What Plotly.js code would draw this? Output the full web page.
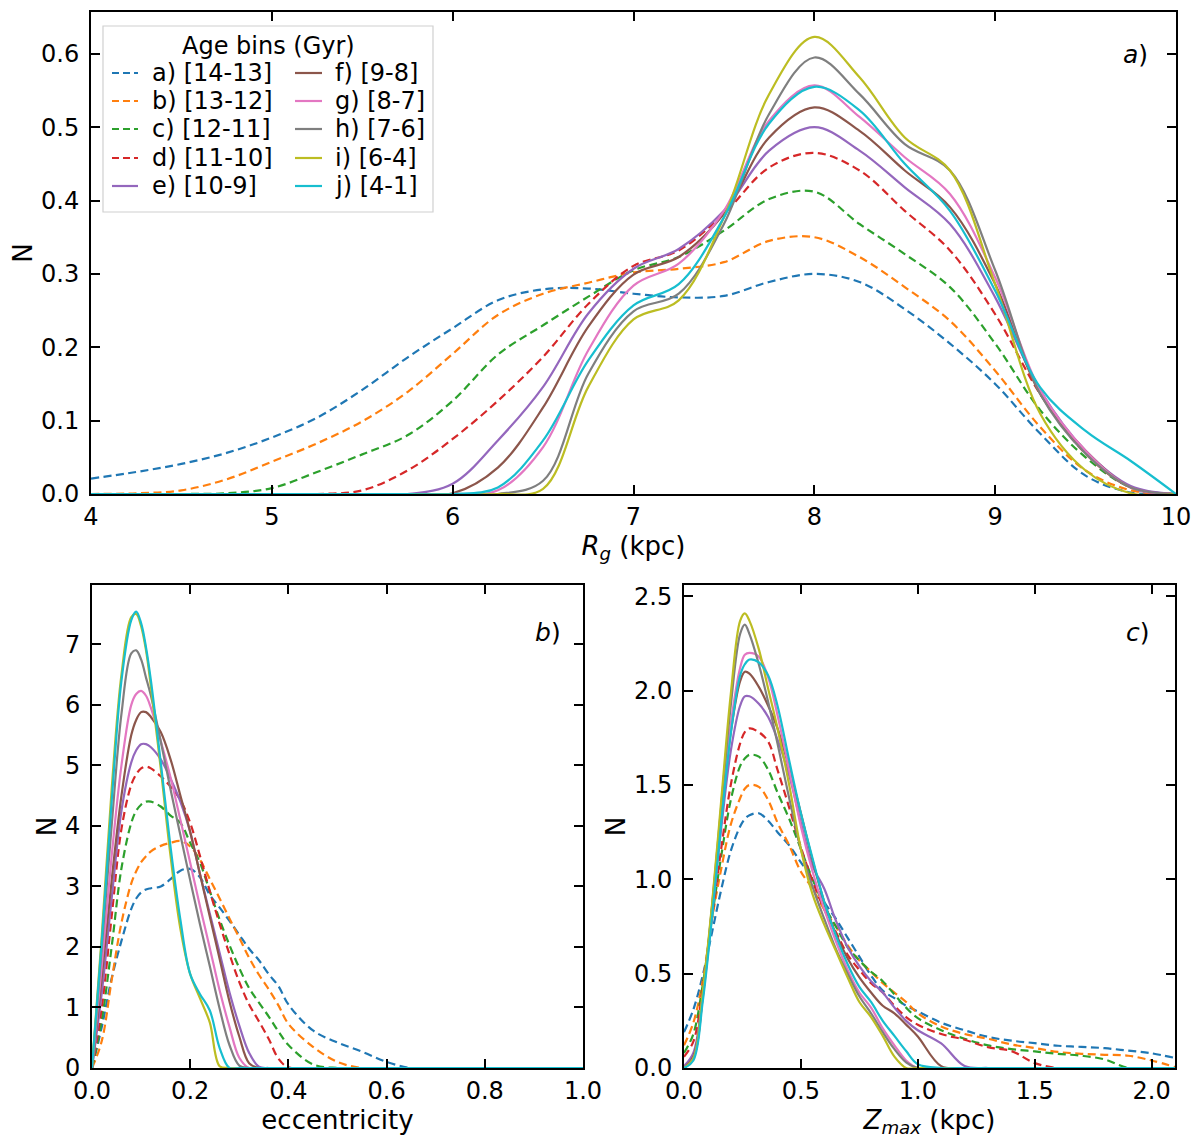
<!DOCTYPE html>
<html>
<head>
<meta charset="utf-8">
<script src="https://cdn.plot.ly/plotly-3.0.1.min.js"></script>
<style>body{margin:0;background:#fff;}</style>
</head>
<body>
<div id="graph" style="width:1200px;height:1146px;"></div>
<script>
/* ----- Age bins ------- */
var binNames = ['a) [14-13]', 'b) [13-12]', 'c) [12-11]', 'd) [11-10]', 'e) [10-9]',
                'f) [9-8]', 'g) [8-7]', 'h) [7-6]', 'i) [6-4]', 'j) [4-1]'];
var binColors = ['#1f77b4', '#ff7f0e', '#2ca02c', '#d62728', '#9467bd',
                 '#8c564b', '#e377c2', '#7f7f7f', '#bcbd22', '#17becf'];
var binDashed = [true, true, true, true, false, false, false, false, false, false];

/* ----- Panel a: guiding radius R_g (kpc) ------- */
var rgGrid = [4, 4.25, 4.5, 4.75, 5, 5.25, 5.5, 5.75, 6, 6.25, 6.5, 6.75, 7,
              7.25, 7.5, 7.75, 8, 8.25, 8.5, 8.75, 9, 9.25, 9.5, 9.75, 10];
var rgA = [0.021, 0.030, 0.041, 0.056, 0.077, 0.104, 0.142, 0.186, 0.226, 0.264, 0.279, 0.280, 0.273,
           0.268, 0.270, 0.289, 0.300, 0.289, 0.252, 0.205, 0.150, 0.082, 0.025, 0.002, 0];
var rgB = [0, 0.001, 0.005, 0.020, 0.044, 0.069, 0.099, 0.139, 0.191, 0.244, 0.273, 0.288, 0.302,
           0.307, 0.316, 0.345, 0.350, 0.323, 0.282, 0.236, 0.168, 0.091, 0.032, 0.005, 0];
var rgC = [0, 0, 0, 0.001, 0.008, 0.030, 0.054, 0.080, 0.127, 0.190, 0.230, 0.269, 0.305,
           0.323, 0.359, 0.402, 0.412, 0.368, 0.327, 0.282, 0.205, 0.114, 0.050, 0.009, 0];
var rgD = [0, 0, 0, 0, 0, 0, 0.005, 0.032, 0.075, 0.127, 0.187, 0.259, 0.311,
           0.332, 0.382, 0.445, 0.465, 0.441, 0.386, 0.332, 0.245, 0.136, 0.055, 0.009, 0];
var rgE = [0, 0, 0, 0, 0, 0, 0, 0, 0.014, 0.073, 0.146, 0.246, 0.307,
           0.334, 0.386, 0.468, 0.500, 0.468, 0.418, 0.368, 0.268, 0.141, 0.059, 0.011, 0];
var rgF = [0, 0, 0, 0, 0, 0, 0, 0, 0.001, 0.036, 0.118, 0.228, 0.299,
           0.323, 0.382, 0.486, 0.527, 0.495, 0.441, 0.391, 0.286, 0.136, 0.059, 0.009, 0];
var rgG = [0, 0, 0, 0, 0, 0, 0, 0, 0, 0.005, 0.064, 0.196, 0.284,
           0.314, 0.386, 0.509, 0.557, 0.514, 0.459, 0.409, 0.295, 0.141, 0.059, 0.009, 0];
var rgH = [0, 0, 0, 0, 0, 0, 0, 0, 0, 0, 0.018, 0.164, 0.249,
           0.273, 0.368, 0.518, 0.595, 0.545, 0.477, 0.441, 0.305, 0.136, 0.055, 0.009, 0];
var rgI = [0, 0, 0, 0, 0, 0, 0, 0, 0, 0, 0.007, 0.146, 0.238,
           0.264, 0.377, 0.545, 0.623, 0.568, 0.486, 0.441, 0.286, 0.109, 0.032, 0.001, 0];
var rgJ = [0, 0, 0, 0, 0, 0, 0, 0, 0, 0.009, 0.073, 0.182, 0.257,
           0.286, 0.377, 0.505, 0.555, 0.523, 0.450, 0.386, 0.277, 0.145, 0.086, 0.045, 0];

/* ----- Panel b: eccentricity ------- */
var eccGrid = [0, 0.02, 0.04, 0.06, 0.08, 0.09, 0.10, 0.11, 0.12, 0.14, 0.16, 0.18, 0.20, 0.22, 0.24,
               0.26, 0.28, 0.30, 0.32, 0.34, 0.36, 0.38, 0.40, 0.45, 0.50, 0.55, 0.60, 0.65, 0.70, 1.0];
var eccA = [0, 0.68, 1.48, 2.1, 2.63, 2.8, 2.9, 2.95, 2.97, 3.0, 3.12, 3.26, 3.29, 3.15, 2.86,
            2.65, 2.43, 2.2, 1.97, 1.78, 1.55, 1.35, 1.05, 0.62, 0.42, 0.27, 0.1, 0, 0, 0];
var eccB = [0, 0.45, 1.45, 2.4, 3.05, 3.25, 3.4, 3.5, 3.58, 3.67, 3.72, 3.75, 3.66, 3.44, 3.12,
            2.8, 2.47, 2.15, 1.82, 1.54, 1.3, 1.03, 0.73, 0.35, 0.1, 0, 0, 0, 0, 0];
var eccC = [0, 0.8, 2.0, 3.3, 4.05, 4.25, 4.35, 4.4, 4.4, 4.32, 4.17, 4.05, 3.72, 3.39, 2.92,
            2.45, 2.03, 1.65, 1.32, 1.08, 0.85, 0.6, 0.38, 0.06, 0, 0, 0, 0, 0, 0];
var eccD = [0, 1.0, 2.5, 3.95, 4.68, 4.85, 4.95, 4.98, 4.95, 4.82, 4.65, 4.43, 4.05, 3.5, 2.92,
            2.38, 1.88, 1.42, 1.05, 0.77, 0.48, 0.15, 0.01, 0, 0, 0, 0, 0, 0, 0];
var eccE = [0, 1.25, 2.8, 4.25, 5.05, 5.25, 5.35, 5.35, 5.3, 5.1, 4.78, 4.4, 3.9, 3.2, 2.55,
            1.9, 1.25, 0.7, 0.25, 0.02, 0, 0, 0, 0, 0, 0, 0, 0, 0, 0];
var eccF = [0, 1.5, 3.1, 4.5, 5.5, 5.75, 5.88, 5.88, 5.8, 5.55, 5.1, 4.5, 3.9, 3.2, 2.5,
            1.8, 1.1, 0.52, 0.08, 0, 0, 0, 0, 0, 0, 0, 0, 0, 0, 0];
var eccG = [0, 1.7, 3.5, 5.0, 6.0, 6.18, 6.23, 6.15, 5.95, 5.4, 4.8, 4.1, 3.39, 2.67, 1.98,
            1.28, 0.68, 0.17, 0, 0, 0, 0, 0, 0, 0, 0, 0, 0, 0, 0];
var eccH = [0, 2.0, 4.0, 5.85, 6.85, 6.9, 6.75, 6.45, 6.15, 5.4, 4.6, 3.85, 3.1, 2.37, 1.68,
            0.98, 0.38, 0.04, 0, 0, 0, 0, 0, 0, 0, 0, 0, 0, 0, 0];
var eccI = [0, 2.2, 4.6, 6.5, 7.45, 7.5, 7.3, 6.9, 6.3, 4.95, 3.5, 2.3, 1.55, 1.15, 0.75,
            0.03, 0, 0, 0, 0, 0, 0, 0, 0, 0, 0, 0, 0, 0, 0];
var eccJ = [0, 2.1, 4.4, 6.4, 7.4, 7.54, 7.35, 6.95, 6.4, 5.05, 3.65, 2.45, 1.55, 1.22, 0.95,
            0.33, 0, 0, 0, 0, 0, 0, 0, 0, 0, 0, 0, 0, 0, 0];

/* ----- Panel c: Z_max (kpc) ------- */
var zGrid = [0, 0.04, 0.08, 0.12, 0.16, 0.20, 0.24, 0.26, 0.28, 0.32, 0.36, 0.40, 0.45, 0.50, 0.55,
             0.60, 0.65, 0.70, 0.75, 0.80, 0.85, 0.90, 0.95, 1.0, 1.1, 1.2, 1.3, 1.4, 1.5, 1.6,
             1.7, 1.8, 1.9, 2.0, 2.1];
var zA = [0.19, 0.31, 0.49, 0.72, 0.95, 1.15, 1.28, 1.32, 1.34, 1.35, 1.31, 1.25, 1.18, 1.09, 1.00,
          0.88, 0.79, 0.69, 0.59, 0.49, 0.41, 0.37, 0.33, 0.30, 0.24, 0.20, 0.165, 0.145, 0.132, 0.118,
          0.112, 0.105, 0.092, 0.078, 0.053];
var zB = [0.12, 0.24, 0.46, 0.79, 1.06, 1.29, 1.43, 1.48, 1.50, 1.49, 1.42, 1.30, 1.18, 1.04, 0.95,
          0.84, 0.75, 0.65, 0.57, 0.51, 0.45, 0.40, 0.35, 0.29, 0.22, 0.18, 0.155, 0.125, 0.106, 0.085,
          0.075, 0.07, 0.065, 0.04, 0.005];
var zC = [0.08, 0.18, 0.44, 0.80, 1.13, 1.42, 1.60, 1.64, 1.66, 1.65, 1.58, 1.46, 1.32, 1.16, 1.00,
          0.86, 0.75, 0.64, 0.57, 0.51, 0.46, 0.39, 0.32, 0.264, 0.20, 0.155, 0.12, 0.10, 0.088, 0.075,
          0.065, 0.045, 0, 0, 0];
var zD = [0.06, 0.14, 0.42, 0.80, 1.17, 1.50, 1.72, 1.78, 1.80, 1.78, 1.73, 1.58, 1.38, 1.17, 0.99,
          0.84, 0.72, 0.60, 0.52, 0.45, 0.40, 0.33, 0.27, 0.229, 0.18, 0.15, 0.11, 0.09, 0.026, 0,
          0, 0, 0, 0, 0];
var zE = [0.01, 0.08, 0.38, 0.82, 1.28, 1.68, 1.92, 1.97, 1.97, 1.93, 1.86, 1.74, 1.55, 1.30, 1.07,
          0.95, 0.78, 0.64, 0.54, 0.46, 0.40, 0.32, 0.25, 0.20, 0.13, 0.01, 0, 0, 0, 0,
          0, 0, 0, 0, 0];
var zF = [0, 0.06, 0.38, 0.85, 1.35, 1.78, 2.05, 2.10, 2.09, 2.02, 1.92, 1.80, 1.59, 1.35, 1.10,
          0.88, 0.71, 0.58, 0.48, 0.40, 0.33, 0.29, 0.23, 0.167, 0.01, 0, 0, 0, 0, 0,
          0, 0, 0, 0, 0];
var zG = [0, 0.05, 0.37, 0.82, 1.35, 1.82, 2.12, 2.19, 2.20, 2.18, 2.07, 1.87, 1.58, 1.28, 1.04,
          0.84, 0.67, 0.52, 0.40, 0.32, 0.21, 0.12, 0.04, 0, 0, 0, 0, 0, 0, 0,
          0, 0, 0, 0, 0];
var zH = [0, 0.05, 0.38, 0.86, 1.40, 1.92, 2.30, 2.35, 2.30, 2.14, 1.94, 1.72, 1.43, 1.16, 0.96,
          0.79, 0.63, 0.50, 0.38, 0.29, 0.19, 0.10, 0.03, 0, 0, 0, 0, 0, 0, 0,
          0, 0, 0, 0, 0];
var zI = [0, 0.05, 0.40, 0.87, 1.43, 1.98, 2.37, 2.41, 2.37, 2.22, 2.01, 1.80, 1.50, 1.16, 0.92,
          0.76, 0.62, 0.48, 0.35, 0.27, 0.17, 0.06, 0, 0, 0, 0, 0, 0, 0, 0,
          0, 0, 0, 0, 0];
var zJ = [0, 0.04, 0.35, 0.80, 1.31, 1.77, 2.08, 2.14, 2.165, 2.15, 2.08, 1.92, 1.63, 1.35, 1.11,
          0.88, 0.70, 0.55, 0.43, 0.35, 0.25, 0.17, 0.09, 0.02, 0, 0, 0, 0, 0, 0,
          0, 0, 0, 0, 0];

var rgSeries = [rgA, rgB, rgC, rgD, rgE, rgF, rgG, rgH, rgI, rgJ];
var eccSeries = [eccA, eccB, eccC, eccD, eccE, eccF, eccG, eccH, eccI, eccJ];
var zSeries = [zA, zB, zC, zD, zE, zF, zG, zH, zI, zJ];

var W = 1200, H = 1146;
var FONT = 'DejaVu Sans';
var DASH = '8px,4.5px';

/* ------ Traces ------- */

/**
 * Builds one KDE curve for one age bin in one panel.
 */
function makeCurve(i, xs, ys, xa, ya) {
    return {
        x: xs,
        y: ys,
        xaxis: xa,
        yaxis: ya,
        type: 'scatter',
        mode: 'lines',
        name: binNames[i],
        showlegend: false,
        line: {
            color: binColors[i],
            width: 2.2,
            shape: 'spline',
            smoothing: 1,
            dash: binDashed[i] ? DASH : 'solid'
        },
        hoverinfo: 'skip'
    };
}

var data = [];
for (var i = 0; i < binNames.length; i++) {
    data.push(makeCurve(i, rgGrid, rgSeries[i], 'x', 'y'));
}
for (var i = 0; i < binNames.length; i++) {
    data.push(makeCurve(i, eccGrid, eccSeries[i], 'x2', 'y2'));
}
for (var i = 0; i < binNames.length; i++) {
    data.push(makeCurve(i, zGrid, zSeries[i], 'x3', 'y3'));
}

/* ------ Axes ------- */

function axis(extra) {
    var base = {
        showline: true,
        linecolor: 'black',
        linewidth: 2,
        mirror: 'ticks',
        ticks: 'inside',
        ticklen: 9,
        tickwidth: 2,
        tickcolor: 'black',
        showgrid: false,
        zeroline: false,
        fixedrange: true,
        tickfont: {family: FONT, size: 24, color: 'black'}
    };
    return Object.assign(base, extra);
}

function axTitle(text, standoff) {
    return {text: text, standoff: standoff, font: {family: FONT, size: 26, color: 'black'}};
}

var topY = [1 - 494 / H, 1 - 12 / H];
var botY = [1 - 1068 / H, 1 - 585 / H];

/* ------ Legend (two columns, age bins) drawn in paper coords ------- */
var legendBox = {x0: 103, x1: 433, y0: 26, y1: 212};
var legendRows = [73, 101, 129, 158, 186];
var legendCols = [{line: [112, 138], text: 150}, {line: [295, 322], text: 333}];

var shapes = [{
    type: 'rect', xref: 'paper', yref: 'paper',
    x0: legendBox.x0 / W, x1: legendBox.x1 / W, y0: 1 - legendBox.y1 / H, y1: 1 - legendBox.y0 / H,
    line: {color: '#d0d0d0', width: 1.2},
    fillcolor: 'rgba(255,255,255,0.85)',
    layer: 'above'
}];
var annotations = [{
    text: 'Age bins (Gyr)', xref: 'paper', yref: 'paper', x: 268 / W, y: 1 - 46 / H,
    showarrow: false, xanchor: 'center', yanchor: 'middle',
    font: {family: FONT, size: 24, color: 'black'}
}];
for (var i = 0; i < binNames.length; i++) {
    var col = legendCols[Math.floor(i / 5)];
    var rowY = 1 - legendRows[i % 5] / H;
    shapes.push({
        type: 'line', xref: 'paper', yref: 'paper',
        x0: col.line[0] / W, x1: col.line[1] / W, y0: rowY, y1: rowY,
        line: {color: binColors[i], width: 2.2, dash: binDashed[i] ? '7px,4px' : 'solid'},
        layer: 'above'
    });
    annotations.push({
        text: binNames[i], xref: 'paper', yref: 'paper', x: col.text / W, y: rowY,
        showarrow: false, xanchor: 'left', yanchor: 'middle',
        font: {family: FONT, size: 24, color: 'black'}
    });
}

/* ------ Panel labels ------- */
var panelLabels = [['<i>a</i>)', 1135, 55], ['<i>b</i>)', 548, 632], ['<i>c</i>)', 1138, 632]];
panelLabels.forEach(function (p) {
    annotations.push({
        text: p[0], xref: 'paper', yref: 'paper', x: p[1] / W, y: 1 - p[2] / H,
        showarrow: false, xanchor: 'center', yanchor: 'middle',
        font: {family: FONT, size: 25, color: 'black'}
    });
});

var layout = {
    width: W,
    height: H,
    margin: {l: 0, r: 0, t: 0, b: 0},
    paper_bgcolor: 'white',
    plot_bgcolor: 'white',
    showlegend: false,
    font: {family: FONT, size: 24, color: 'black'},
    xaxis: axis({domain: [91 / W, 1176 / W], range: [4, 10], dtick: 1, anchor: 'y',
                 ticklabelstandoff: 0,
                 title: axTitle('<i>R</i><sub><i>g</i></sub> (kpc)', 7)}),
    yaxis: axis({domain: topY, range: [0, 0.657], dtick: 0.1, tickformat: '.1f', anchor: 'x',
                 ticklabelstandoff: 5,
                 title: axTitle('N', 1)}),
    xaxis2: axis({domain: [92 / W, 583 / W], range: [0, 1], dtick: 0.2, tickformat: '.1f', anchor: 'y2',
                  ticklabelstandoff: 0,
                  title: axTitle('eccentricity', 6)}),
    yaxis2: axis({domain: botY, range: [0, 7.98], dtick: 1, anchor: 'x2',
                  ticklabelstandoff: 5,
                  title: axTitle('N', 1)}),
    xaxis3: axis({domain: [684 / W, 1175 / W], range: [0, 2.1], dtick: 0.5, tickformat: '.1f', anchor: 'y3',
                  ticklabelstandoff: 0,
                  title: axTitle('<i>Z</i><sub><i>max</i></sub> (kpc)', 6)}),
    yaxis3: axis({domain: botY, range: [0, 2.56], dtick: 0.5, tickformat: '.1f', anchor: 'x3',
                  ticklabelstandoff: 5,
                  title: axTitle('N', 1)}),
    shapes: shapes,
    annotations: annotations
};

var graph = document.getElementById('graph');
Plotly.newPlot(graph, data, layout, {displayModeBar: false, staticPlot: true});
</script>
</body>
</html>
